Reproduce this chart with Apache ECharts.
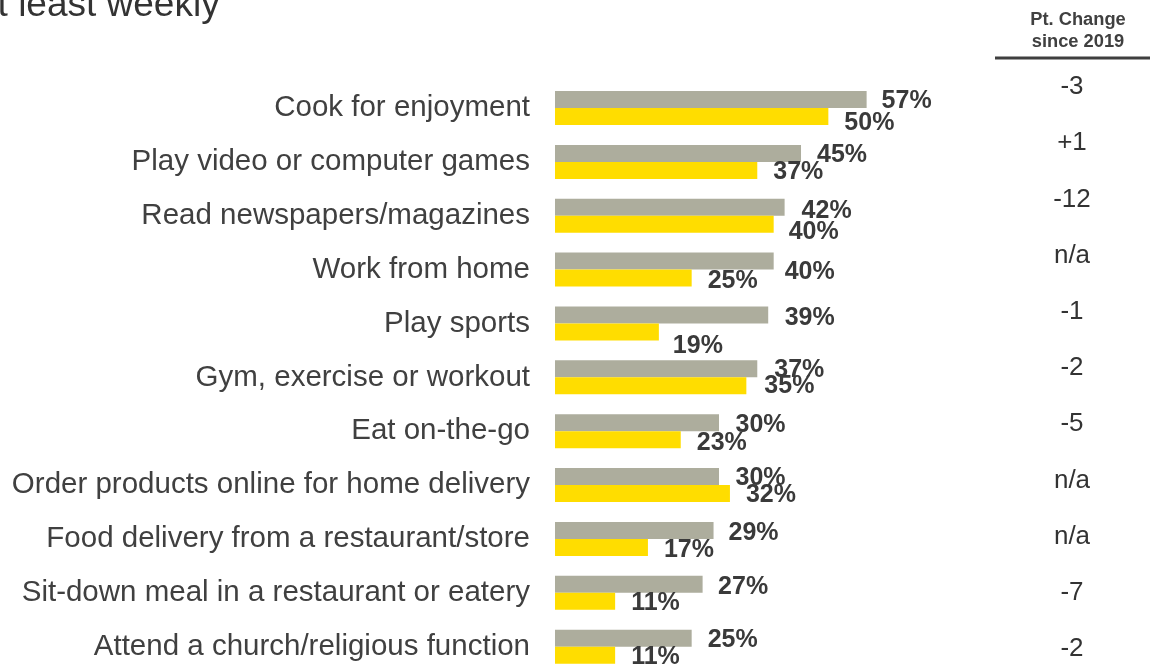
<!DOCTYPE html>
<html>
<head>
<meta charset="utf-8">
<script src="https://cdn.jsdelivr.net/npm/echarts@6/dist/echarts.min.js"></script>
<style>
  html, body { margin: 0; padding: 0; background: #ffffff; overflow: hidden; }
  /* the canvas runs a little past the bottom edge so the last row can sit flush with it */
  #chart { width: 1150px; height: 700px; }
</style>
</head>
<body>
<div id="chart"></div>
<script>
// Activities, top to bottom
const categories = [
  'Cook for enjoyment',
  'Play video or computer games',
  'Read newspapers/magazines',
  'Work from home',
  'Play sports',
  'Gym, exercise or workout',
  'Eat on-the-go',
  'Order products online for home delivery',
  'Food delivery from a restaurant/store',
  'Sit-down meal in a restaurant or eatery',
  'Attend a church/religious function'
];

// Share doing each activity at least weekly (%)
const grayValues   = [57, 45, 42, 40, 39, 37, 30, 30, 29, 27, 25];
const yellowValues = [50, 37, 40, 25, 19, 35, 23, 32, 17, 11, 11];

// Point change since 2019, shown in the right-hand column
const ptChange = ['-3', '+1', '-12', 'n/a', '-1', '-2', '-5', 'n/a', 'n/a', '-7', '-2'];

// Hand-placed nudges for the value labels [dx, dy]
const grayLabelNudge = [[-1,1],[0,1],[1,2.5],[-5,10],[0.5,2],[1,0],[0.5,1],[0.5,0],[-1,1.5],[-0.5,1.5],[0,1]];
const yellowLabelNudge = [[0,5.5],[0,1],[-1,6.5],[0,1.5],[-2,13],[2,-1],[0,2],[0,0],[0,2],[0,1],[0,1]];

const FONT = '"Liberation Sans", Arial, sans-serif';
const GRAY = '#ADAD9D';
const YELLOW = '#FFDD00';
const LABEL_COLOR = '#3a3a3a';

function buildData(values, nudges) {
  return values.map((v, i) => ({
    value: v,
    label: { offset: [nudges[i][0], nudges[i][1] + 1] }
  }));
}

const valueLabel = {
  show: true,
  position: 'right',
  distance: 16,
  formatter: '{c}%',
  fontFamily: FONT,
  fontSize: 25,
  fontWeight: 'bold',
  color: LABEL_COLOR
};

const chart = echarts.init(document.getElementById('chart'), null, { renderer: 'canvas' });

chart.setOption({
  animation: false,
  backgroundColor: '#ffffff',
  grid: [
    { left: 555, top: 81.07, width: 546.7, height: 592.6, containLabel: false },
    { left: 1072, top: 58.9, width: 1, height: 618.2, containLabel: false }
  ],
  xAxis: [
    { type: 'value', gridIndex: 0, min: 0, max: 100, show: false },
    { type: 'value', gridIndex: 1, min: 0, max: 1, show: false }
  ],
  yAxis: [
    {
      type: 'category',
      gridIndex: 0,
      data: categories,
      inverse: true,
      axisLine: { show: false },
      axisTick: { show: false },
      splitLine: { show: false },
      axisLabel: {
        margin: 25,
        padding: [5, 0, 0, 0],
        fontFamily: FONT,
        fontSize: 29.5,
        color: '#404040'
      }
    },
    {
      type: 'category',
      gridIndex: 1,
      data: ptChange,
      inverse: true,
      axisLine: { show: false },
      axisTick: { show: false },
      splitLine: { show: false },
      axisLabel: {
        margin: 0,
        align: 'center',
        fontFamily: FONT,
        fontSize: 26,
        color: '#333333'
      }
    }
  ],
  series: [
    {
      name: 'Gray',
      type: 'bar',
      xAxisIndex: 0,
      yAxisIndex: 0,
      barWidth: 17,
      barGap: '0%',
      itemStyle: { color: GRAY },
      label: valueLabel,
      data: buildData(grayValues, grayLabelNudge)
    },
    {
      name: 'Yellow',
      type: 'bar',
      xAxisIndex: 0,
      yAxisIndex: 0,
      barWidth: 17,
      barGap: '0%',
      itemStyle: { color: YELLOW },
      label: valueLabel,
      data: buildData(yellowValues, yellowLabelNudge)
    }
  ],
  graphic: [
    {
      type: 'text',
      left: -23,
      top: -13,
      style: {
        text: 'at least weekly',
        font: '37px ' + FONT,
        fill: '#333333'
      }
    },
    {
      type: 'text',
      x: 1078,
      y: 30.5,
      style: {
        text: 'Pt. Change\nsince 2019',
        font: 'bold 18.3px ' + FONT,
        lineHeight: 22,
        fill: '#404040',
        align: 'center',
        verticalAlign: 'middle'
      }
    },
    {
      type: 'line',
      shape: { x1: 995, y1: 58, x2: 1150, y2: 58 },
      style: { stroke: '#3f3f3f', lineWidth: 3 }
    }
  ]
});
</script>
</body>
</html>
